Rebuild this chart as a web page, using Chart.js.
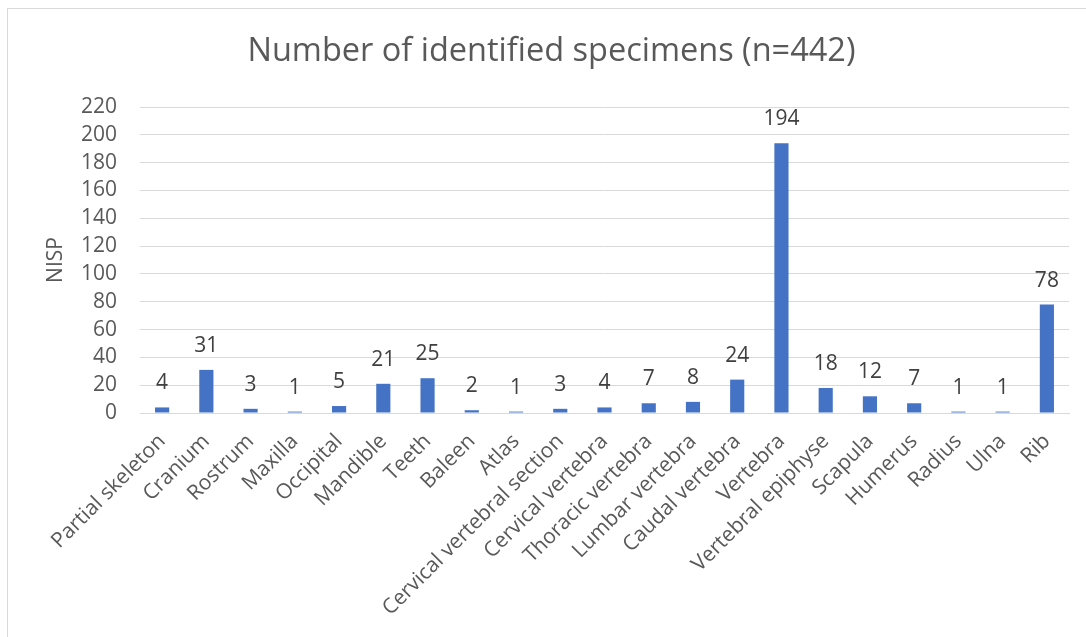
<!DOCTYPE html>
<html>
<head>
<meta charset="utf-8">
<script src="https://cdn.jsdelivr.net/npm/chart.js@4.4.0/dist/chart.umd.min.js"></script>
<style>
  html, body { margin: 0; padding: 0; background: #ffffff; }
  #wrap { position: relative; width: 1086px; height: 637px; overflow: hidden; }
  #frame { position: absolute; left: 7px; top: 8px; width: 1200px; height: 800px;
           border-top: 1px solid #d9d9d9; border-left: 1px solid #d9d9d9; }
  canvas { position: absolute; left: 0; top: 0; }
</style>
</head>
<body>
<div id="wrap">
  <div id="frame"></div>
  <canvas id="chart" width="1086" height="637"></canvas>
</div>
<script>
const categories = [
  "Partial skeleton", "Cranium", "Rostrum", "Maxilla", "Occipital", "Mandible",
  "Teeth", "Baleen", "Atlas", "Cervical vertebral section", "Cervical vertebra",
  "Thoracic vertebra", "Lumbar vertebra", "Caudal vertebra", "Vertebra",
  "Vertebral epiphyse", "Scapula", "Humerus", "Radius", "Ulna", "Rib"
];
const nispValues = [4, 31, 3, 1, 5, 21, 25, 2, 1, 3, 4, 7, 8, 24, 194, 18, 12, 7, 1, 1, 78];
const yTicks = { min: 0, max: 220, step: 20 };

const FONT = "'Open Sans', 'DejaVu Sans', sans-serif";

// Writes each bar's value just above its top
const valueLabels = {
  id: 'valueLabels',
  afterDatasetsDraw(chart) {
    const ctx = chart.ctx;
    const meta = chart.getDatasetMeta(0);
    ctx.save();
    ctx.font = "21px " + FONT;
    ctx.fillStyle = '#404040';
    ctx.textAlign = 'center';
    ctx.textBaseline = 'alphabetic';
    meta.data.forEach((bar, i) => {
      ctx.fillText(String(chart.data.datasets[0].data[i]), bar.x, bar.y - 18);
    });
    ctx.restore();
  }
};

new Chart(document.getElementById('chart'), {
  type: 'bar',
  data: {
    labels: categories,
    datasets: [{
      label: 'NISP',
      data: nispValues,
      backgroundColor: '#4472C4',
      borderWidth: 0,
      barPercentage: 0.32,
      categoryPercentage: 1.0
    }]
  },
  options: {
    responsive: false,
    animation: false,
    devicePixelRatio: 1,
    layout: { padding: { left: 34, right: 17, top: 0, bottom: 0 } },
    plugins: {
      legend: { display: false },
      tooltip: { enabled: false },
      title: {
        display: true,
        text: 'Number of identified specimens (n=442)',
        color: '#595959',
        font: { family: FONT, size: 32.5, weight: 'normal' },
        padding: { top: 32, bottom: 36 }
      }
    },
    scales: {
      x: {
        grid: { display: false, drawTicks: false },
        border: { display: true, color: '#d9d9d9', width: 1 },
        ticks: {
          autoSkip: false,
          minRotation: 45,
          maxRotation: 45,
          padding: 16,
          color: '#595959',
          font: { family: FONT, size: 21 }
        },
        afterFit(scale) { scale.height = 224; }
      },
      y: {
        min: yTicks.min,
        max: yTicks.max,
        grid: { color: '#d9d9d9', lineWidth: 1, drawTicks: false },
        border: { display: false },
        ticks: {
          stepSize: yTicks.step,
          autoSkip: false,
          padding: 23,
          color: '#595959',
          font: { family: FONT, size: 21 }
        },
        title: {
          display: true,
          text: 'NISP',
          color: '#595959',
          font: { family: FONT, size: 21 },
          padding: { top: 9, bottom: 0 }
        },
        afterFit(scale) { scale.width = 106; }
      }
    }
  },
  plugins: [valueLabels]
});
</script>
</body>
</html>
